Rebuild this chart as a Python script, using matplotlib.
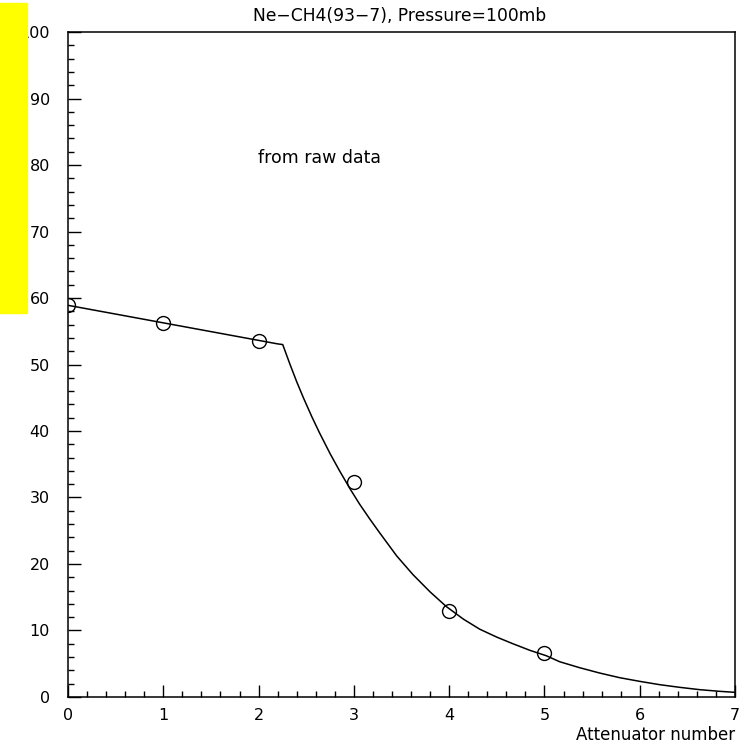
import matplotlib
matplotlib.use("Agg")
import matplotlib.pyplot as plt
from matplotlib.patches import Rectangle
from matplotlib.ticker import MultipleLocator

# measured points
atten = [0, 1, 2, 3, 4, 5]
signal = [59.0, 56.3, 53.5, 32.3, 12.9, 6.6]

# fit curve
curve_x = [0, 2.2, 2.253, 2.33, 2.40, 2.47, 2.56, 2.64, 2.75, 2.85, 2.96, 3.06, 3.17,
           3.27, 3.45, 3.62, 3.80, 3.97, 4.15, 4.32, 4.50, 4.67, 4.85, 5.02,
           5.16, 5.37, 5.58, 5.79, 6.0, 6.21, 6.42, 6.63, 6.84, 7.0]
curve_y = [58.9, 53.1, 53.0, 50.0, 47.4, 45.0, 42.1, 39.7, 36.6, 34.0, 31.3, 29.0, 26.7,
           24.7, 21.2, 18.4, 15.8, 13.6, 11.7, 10.2, 9.0, 8.0, 7.0, 6.2,
           5.3, 4.4, 3.6, 2.9, 2.35, 1.85, 1.45, 1.1, 0.85, 0.7]

titre = "Ne\u2212CH4(93\u22127), Pressure=100mb"
label_x = "Attenuator number"
note = "from raw data"

plt.rcParams['font.family'] = ['DejaVu Sans']

fig = plt.figure(figsize=(7.46, 7.48), dpi=100)
ax = fig.add_axes([0.0912, 0.0682, 0.8941, 0.8890])

ax.plot(curve_x, curve_y, color='black', lw=1.1)
ax.plot(atten, signal, 'o', mfc='none', mec='black', ms=10, mew=1.0)

ax.set_xlim(0, 7)
ax.set_ylim(0, 100)
ax.xaxis.set_major_locator(MultipleLocator(1))
ax.xaxis.set_minor_locator(MultipleLocator(0.2))
ax.yaxis.set_major_locator(MultipleLocator(10))
ax.yaxis.set_minor_locator(MultipleLocator(2))
ax.tick_params(which='major', direction='in', length=9, width=1, labelsize=11.5, color='black')
ax.tick_params(which='minor', direction='in', length=4.5, width=1)
ax.tick_params(axis='y', pad=13)
ax.tick_params(axis='x', pad=8)
for s in ax.spines.values():
    s.set_linewidth(1.1)

ax.text(1.99, 81, note, fontsize=12.5, ha='left', va='center')
fig.text(0.536, 0.979, titre, fontsize=12.3, ha='center', va='center')
fig.text(0.985, 0.017, label_x, fontsize=12, ha='right', va='center')

# yellow block on the left covering part of the labels
fig.patches.append(Rectangle((0, 1 - 313 / 748), 27 / 746, 310 / 748,
                             transform=fig.transFigure, color='#ffff00', zorder=10))

fig.savefig("out.png", dpi=100)
